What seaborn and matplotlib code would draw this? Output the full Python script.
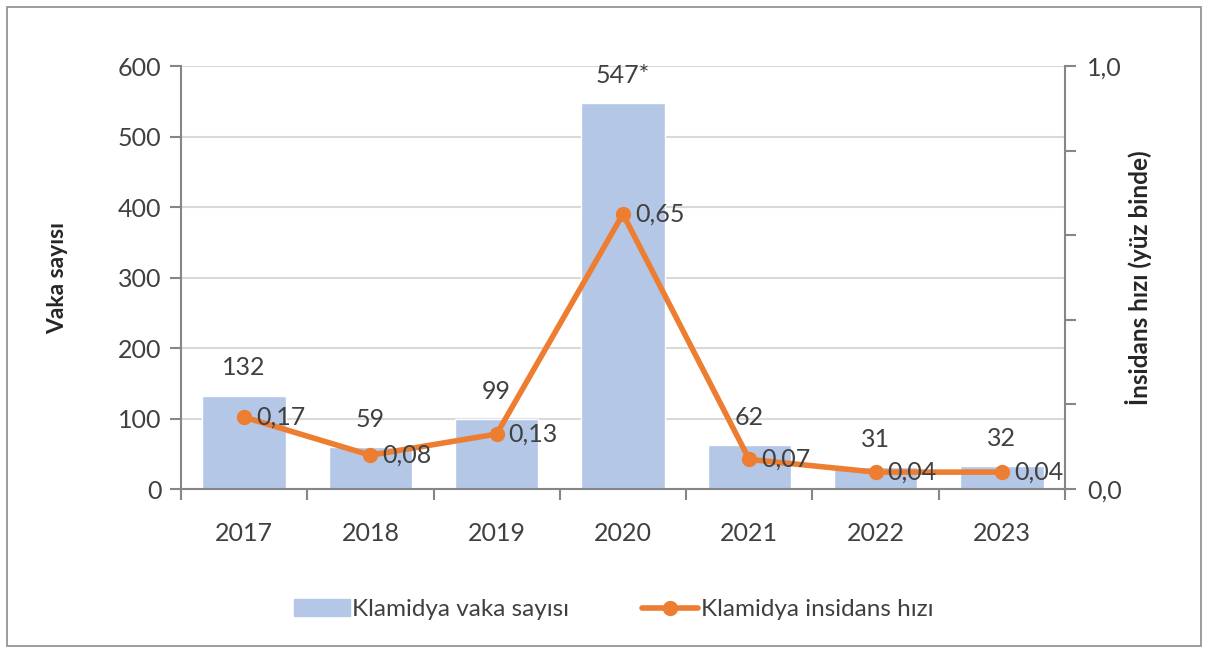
import matplotlib
matplotlib.use('Agg')
import matplotlib.pyplot as plt
import matplotlib.patches as mpatches
from matplotlib.lines import Line2D
import seaborn as sns
import pandas as pd

years = ['2017', '2018', '2019', '2020', '2021', '2022', '2023']
cases = [132, 59, 99, 547, 62, 31, 32]
case_labels = ['132', '59', '99', '547*', '62', '31', '32']
rates = [0.17, 0.08, 0.13, 0.65, 0.07, 0.04, 0.04]

bar_color = '#B4C7E7'
line_color = '#ED7D31'
axis_grey = '#868686'
text_col = '#404040'
fs = 18

sns.set_style('white')
plt.rcParams['font.family'] = ['Lato', 'DejaVu Sans']

df = pd.DataFrame({'yil': years, 'vaka': cases, 'hiz': rates})

fig = plt.figure(figsize=(12.08, 6.51), dpi=100)
ax = fig.add_axes([0.1498, 0.2488, 0.7318, 0.6498])

sns.barplot(data=df, x='yil', y='vaka', color=bar_color, width=0.66,
            saturation=1, ax=ax, zorder=2)
ax.set_ylim(0, 600)
ax.set_xlim(-0.5, 6.5)
ax.set_yticks(range(0, 601, 100))
ax.yaxis.grid(True, color='#D9D9D9', linewidth=1.5, zorder=0)
ax.set_axisbelow(True)
ax.tick_params(axis='y', length=8, width=1.5, color=axis_grey, labelsize=fs,
               labelcolor=text_col, pad=6, direction='out', left=True)
ax.set_xticks(range(len(years)))
ax.set_xticklabels(years)
ax.set_xticks([i - 0.5 for i in range(len(years) + 1)], minor=True)
ax.tick_params(axis='x', which='major', length=0, labelsize=fs,
               labelcolor=text_col, pad=24)
ax.tick_params(axis='x', which='minor', length=8, width=1.5,
               color=axis_grey, direction='out', bottom=True)
ax.set_xlabel('')
ax.set_ylabel('Vaka sayısı', fontsize=16.5, fontweight='bold', color='#262626',
              labelpad=36)
for s in ['top', 'right']:
    ax.spines[s].set_visible(False)
for s in ['left', 'bottom']:
    ax.spines[s].set_color(axis_grey)
    ax.spines[s].set_linewidth(1.5)

for i, (v, lab) in enumerate(zip(cases, case_labels)):
    ax.annotate(lab, (i, v), xytext=(0, 28), textcoords='offset pixels',
                ha='center', va='center', fontsize=fs, color=text_col)

ax2 = ax.twinx()
sns.pointplot(data=df, x='yil', y='hiz', color=line_color, markers='o',
              markersize=8, linewidth=4, ax=ax2, zorder=3)
ax2.set_xlim(-0.5, 6.5)
ax2.set_ylim(0, 1)
ax2.set_yticks([0, 1])
ax2.set_yticklabels(['0,0', '1,0'])
ax2.set_yticks([0.2, 0.4, 0.6, 0.8], minor=True)
ax2.tick_params(axis='y', which='both', length=8, width=1.5, color=axis_grey,
                labelsize=fs, labelcolor=text_col, pad=8, direction='out',
                right=True)
ax2.set_ylabel('İnsidans hızı (yüz binde)', fontsize=17.5, fontweight='bold',
               color='#262626', labelpad=2)
for s in ['top', 'left', 'bottom']:
    ax2.spines[s].set_visible(False)
ax2.spines['right'].set_color(axis_grey)
ax2.spines['right'].set_linewidth(1.5)

for i, r in enumerate(rates):
    ax2.annotate(f'{r:.2f}'.replace('.', ','), (i, r), xytext=(12, 0),
                 textcoords='offset pixels', ha='left', va='center',
                 fontsize=fs, color=text_col)

handles = [mpatches.Patch(color=bar_color, label='Klamidya vaka sayısı'),
           Line2D([0], [0], color=line_color, linewidth=4, marker='o',
                  markersize=10, label='Klamidya insidans hızı')]
fig.legend(handles=handles, loc='center', bbox_to_anchor=(0.508, 0.063),
           ncol=2, frameon=False, fontsize=17.5, handlelength=2.3,
           handletextpad=0.1, columnspacing=3.0, labelcolor=text_col)

fig.patches.append(mpatches.Rectangle((0.006, 0.008), 0.988, 0.982,
                                      transform=fig.transFigure, fill=False,
                                      edgecolor='#8C8C8C', linewidth=1.2))

fig.savefig('out.png', dpi=100)
